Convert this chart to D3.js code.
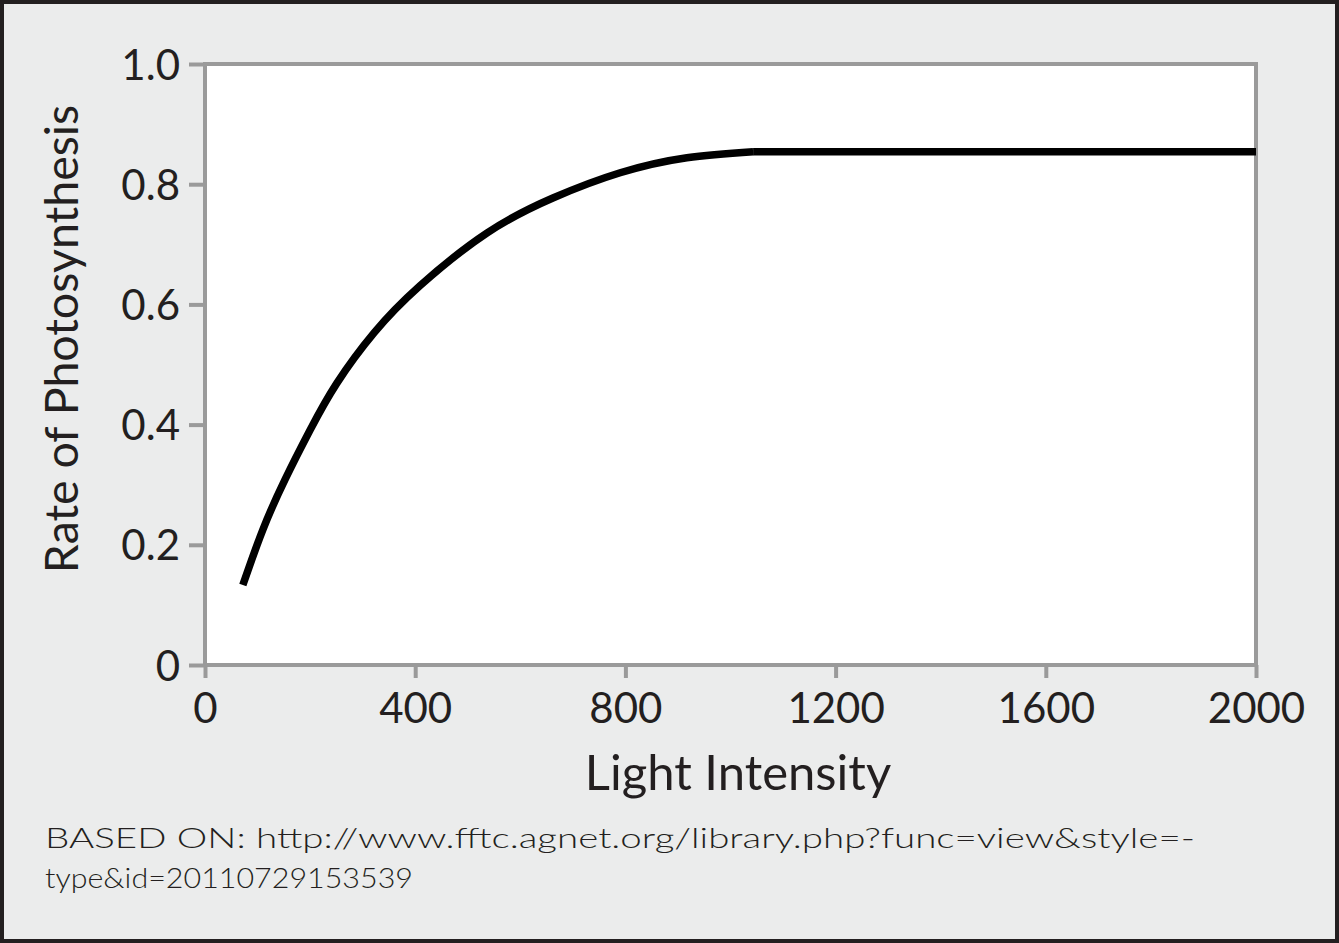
<!DOCTYPE html>
<html>
<head>
<meta charset="utf-8">
<script src="https://cdn.jsdelivr.net/npm/d3@7"></script>
<style>
  html, body { margin: 0; padding: 0; background: #ebecec; }
  svg { display: block; }
  text { font-family: "Lato", "Noto Sans", sans-serif; fill: #231f20; }
</style>
</head>
<body>
<svg id="chart" width="1339" height="943"></svg>
<script>
// ---- data ----
const lightIntensity = [72, 110, 152, 200, 251, 322, 409, 537, 662, 790, 917, 1043, 2000];
const photoRate      = [0.133, 0.225, 0.308, 0.391, 0.469, 0.553, 0.631, 0.719, 0.777, 0.819, 0.844, 0.854, 0.854];
const xTicks = [0, 400, 800, 1200, 1600, 2000];
const xTickLabels = ["0", "400", "800", "1200", "1600", "2000"];
const yTicks = [0, 0.2, 0.4, 0.6, 0.8, 1.0];
const yTickLabels = ["0", "0.2", "0.4", "0.6", "0.8", "1.0"];
const xTitle = "Light Intensity";
const yTitle = "Rate of Photosynthesis";
const sourceLines = ["BASED ON: http://www.fftc.agnet.org/library.php?func=view&style=-",
                     "type&id=20110729153539"];

// ---- layout ----
const W = 1339, H = 943;
const plot = { left: 205, right: 1256, top: 64, bottom: 665 };
const frameColor = "#9a9a9a";

const svg = d3.select("#chart");

// background + outer border
svg.append("rect").attr("x", 2).attr("y", 2).attr("width", W - 4).attr("height", H - 4)
  .attr("fill", "#ebecec").attr("stroke", "#231f20").attr("stroke-width", 4);

const x = d3.scaleLinear().domain([0, 2000]).range([plot.left, plot.right]);
const y = d3.scaleLinear().domain([0, 1]).range([plot.bottom, plot.top]);

// plot area
svg.append("rect")
  .attr("x", plot.left).attr("y", plot.top)
  .attr("width", plot.right - plot.left).attr("height", plot.bottom - plot.top)
  .attr("fill", "#ffffff");

// axes
const yAxis = d3.axisLeft(y).tickValues(yTicks)
  .tickFormat((d, i) => yTickLabels[i]).tickSize(16).tickPadding(9);
const gy = svg.append("g").attr("transform", `translate(${plot.left},0)`).call(yAxis);
gy.select(".domain").remove();
gy.selectAll(".tick line").attr("stroke", frameColor).attr("stroke-width", 4);
gy.selectAll(".tick text").style("font-size", "42px").attr("fill", "#231f20").attr("dy", "0.36em");

const xAxis = d3.axisBottom(x).tickValues(xTicks)
  .tickFormat((d, i) => xTickLabels[i]).tickSize(13).tickPadding(15);
const gx = svg.append("g").attr("transform", `translate(0,${plot.bottom})`).call(xAxis);
gx.select(".domain").remove();
gx.selectAll(".tick line").attr("stroke", frameColor).attr("stroke-width", 4);
gx.selectAll(".tick text").style("font-size", "42px").attr("fill", "#231f20");

// frame
svg.append("rect")
  .attr("x", plot.left).attr("y", plot.top)
  .attr("width", plot.right - plot.left).attr("height", plot.bottom - plot.top)
  .attr("fill", "none").attr("stroke", frameColor).attr("stroke-width", 4);

// curve: smooth rising part, then flat plateau
const pts = lightIntensity.map((v, i) => [v, photoRate[i]]);
const risePts = pts.slice(0, pts.length - 1);
const plateauPts = pts.slice(pts.length - 2);
const riseLine = d3.line().x(d => x(d[0])).y(d => y(d[1])).curve(d3.curveNatural);
const flatLine = d3.line().x(d => x(d[0])).y(d => y(d[1]));
svg.append("path").datum(risePts)
  .attr("d", riseLine).attr("fill", "none")
  .attr("stroke", "#000").attr("stroke-width", 7.5).attr("stroke-linecap", "butt");
svg.append("path").datum(plateauPts)
  .attr("d", flatLine).attr("fill", "none")
  .attr("stroke", "#000").attr("stroke-width", 7.5).attr("stroke-linecap", "butt");

// titles
svg.append("text").attr("x", 738).attr("y", 790).attr("text-anchor", "middle")
  .style("font-size", "49px").text(xTitle);
svg.append("text").attr("transform", "translate(78,339) rotate(-90)")
  .attr("text-anchor", "middle").style("font-size", "46.5px").text(yTitle);

// source
svg.append("text").attr("x", 45).attr("y", 848).style("font-size", "28px").style("font-weight", 300)
  .attr("textLength", 1150).attr("lengthAdjust", "spacingAndGlyphs")
  .attr("fill", "#231f20").text(sourceLines[0]);
svg.append("text").attr("x", 45).attr("y", 888).style("font-size", "28px").style("font-weight", 300)
  .attr("textLength", 368).attr("lengthAdjust", "spacingAndGlyphs")
  .attr("fill", "#231f20").text(sourceLines[1]);
</script>
</body>
</html>
